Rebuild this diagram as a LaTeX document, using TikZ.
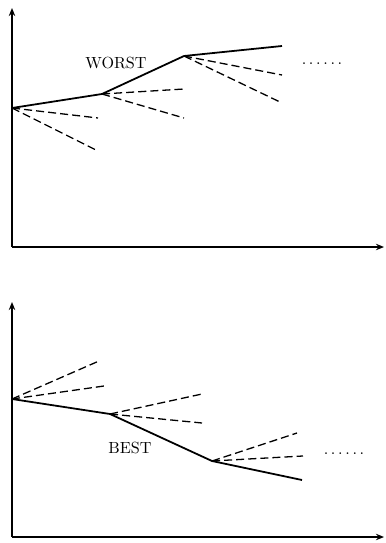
\documentclass[tikz,border=0pt]{standalone}
\usetikzlibrary{arrows.meta}
\tikzset{
  >={Stealth[length=5pt,width=4pt]},
  axis/.style={->,line width=0.8pt},
  path/.style={line width=1.1pt,line join=round},
  branch/.style={line width=0.8pt,dash pattern=on 5pt off 2.5pt},
  lbl/.style={font=\normalsize,inner sep=1pt},
}
\begin{document}
\begin{tikzpicture}[x=0.62pt,y=-0.62pt]
  \useasboundingbox (0,0) rectangle (385,543);

  % upper panel: worst path
  \coordinate (o1) at (12,247);
  \draw[axis] (o1) -- (12,8);
  \draw[axis] (o1) -- (384,247);
  \coordinate (w0) at (12,108);
  \coordinate (w1) at (102,94);
  \coordinate (w2) at (184,56);
  \coordinate (w3) at (282,46);
  \draw[path] (w0) -- (w1) -- (w2) -- (w3);
  \foreach \s/\e in {w0/{98,118},w0/{98,151},w1/{184,89},w1/{184,118},w2/{282,75},w2/{280,102}}
    \draw[branch] (\s) -- (\e);
  \node[lbl] (worst) at (116,63) {WORST};
  \node[lbl] (wdots) at (322,64) {.\,.\,.\,.\,.\,.};

  % lower panel: best path
  \coordinate (o2) at (12,537);
  \draw[axis] (o2) -- (12,302);
  \draw[axis] (o2) -- (384,537);
  \coordinate (b0) at (12,399);
  \coordinate (b1) at (110,414);
  \coordinate (b2) at (212,461);
  \coordinate (b3) at (302,480);
  \draw[path] (b0) -- (b1) -- (b2) -- (b3);
  \foreach \s/\e in {b0/{99,361},b0/{104,386},b1/{202,394},b1/{202,423},b2/{297,433},b2/{303,456}}
    \draw[branch] (\s) -- (\e);
  \node[lbl] (best) at (130,448) {BEST};
  \node[lbl] (bdots) at (344,454) {.\,.\,.\,.\,.\,.};
\end{tikzpicture}
\end{document}
